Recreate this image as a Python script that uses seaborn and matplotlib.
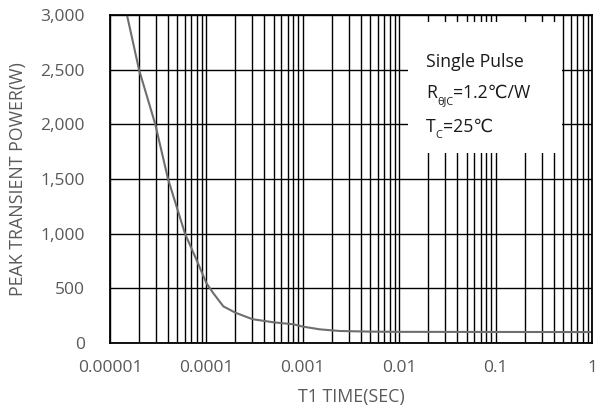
import matplotlib
matplotlib.use("Agg")
import matplotlib.pyplot as plt
import matplotlib.ticker as mticker
from matplotlib.patches import Rectangle
import seaborn as sns
import pandas as pd

# ---- data ----
time_sec = [1.5e-5, 2.0e-5, 2.95e-5, 4.0e-5, 6.0e-5, 7.9e-5, 1.0e-4, 1.18e-4,
            1.5e-4, 2.0e-4, 3.0e-4, 5.0e-4, 8.0e-4, 1.0e-3, 1.5e-3, 2.4e-3,
            5e-3, 1e-2, 1e-1, 1.0]
power_w = [3000, 2500, 2000, 1500, 1000, 760, 548, 455,
           335, 277, 218, 189, 171, 150, 125, 110,
           104, 102, 101, 100]
x_ticks = [1e-5, 1e-4, 1e-3, 1e-2, 1e-1, 1]
x_tick_labels = ["0.00001", "0.0001", "0.001", "0.01", "0.1", "1"]
y_ticks = [0, 500, 1000, 1500, 2000, 2500, 3000]
y_tick_labels = ["0", "500", "1,000", "1,500", "2,000", "2,500", "3,000"]

sns.set_style("white")
plt.rcParams['font.family'] = ['Open Sans', 'DejaVu Sans']

df = pd.DataFrame({"t": time_sec, "p": power_w})

fig = plt.figure(figsize=(6.02, 4.18), dpi=100)
ax = fig.add_axes([110/602, 75/418, 482/602, 328/418])

sns.lineplot(data=df, x="t", y="p", ax=ax, color="#6e6e6e", lw=1.5, zorder=3)
ax.set_xscale("log")
ax.set_xlim(1e-5, 1)
ax.set_ylim(0, 3000)

ax.xaxis.set_major_locator(mticker.FixedLocator(x_ticks))
ax.xaxis.set_minor_locator(mticker.LogLocator(base=10, subs=range(2, 10), numticks=20))
ax.xaxis.set_minor_formatter(mticker.NullFormatter())
ax.set_xticks(x_ticks)
ax.set_xticklabels(x_tick_labels)
ax.set_yticks(y_ticks)
ax.set_yticklabels(y_tick_labels)

ax.grid(which="both", axis="x", color="black", lw=1.0, zorder=1)
ax.grid(which="major", axis="y", color="black", lw=1.0, zorder=1)
ax.set_axisbelow(True)

ax.tick_params(axis="both", which="both", length=0, labelsize=12.5, labelcolor="#595959")
ax.tick_params(axis="x", pad=12)
ax.tick_params(axis="y", pad=18)

for s in ax.spines.values():
    s.set_visible(True)
    s.set_color("black")
    s.set_linewidth(1.3)
    s.set_zorder(5)

ax.set_xlabel("T1 TIME(SEC)", fontsize=12.8, color="#595959")
ax.set_ylabel("PEAK TRANSIENT POWER(W)", fontsize=12.8, color="#595959")
ax.xaxis.set_label_coords(0.5, -0.138)
ax.yaxis.set_label_coords(-0.172, 0.5)

# legend-like text box
ax.add_patch(Rectangle((0.618, 0.579), 0.32, 0.40, transform=ax.transAxes,
                       facecolor="white", edgecolor="none", zorder=4))
tc = "#1a1a1a"
fs = 12.7
x0 = 0.656
ax.text(x0, 0.841, "Single Pulse", transform=ax.transAxes, fontsize=fs,
        color=tc, va="baseline", ha="left", zorder=6)
r = ax.text(x0, 0.747, "R", transform=ax.transAxes, fontsize=fs,
            color=tc, va="baseline", ha="left", zorder=6)
r_sub = ax.annotate("θJC", xy=(1, 0), xycoords=r, xytext=(0, -3.5),
                    textcoords="offset points", fontsize=fs*0.62, color=tc,
                    va="bottom", ha="left", zorder=6)
ax.annotate("=1.2℃/W", xy=(1, 0), xycoords=r_sub, xytext=(0, 3.5),
            textcoords="offset points", fontsize=fs, color=tc,
            va="bottom", ha="left", zorder=6)
t = ax.text(x0, 0.643, "T", transform=ax.transAxes, fontsize=fs,
            color=tc, va="baseline", ha="left", zorder=6)
t_sub = ax.annotate("C", xy=(1, 0), xycoords=t, xytext=(0, -3.5),
                    textcoords="offset points", fontsize=fs*0.62, color=tc,
                    va="bottom", ha="left", zorder=6)
ax.annotate("=25℃", xy=(1, 0), xycoords=t_sub, xytext=(0, 3.5),
            textcoords="offset points", fontsize=fs, color=tc,
            va="bottom", ha="left", zorder=6)

fig.savefig("out.png", dpi=100)
